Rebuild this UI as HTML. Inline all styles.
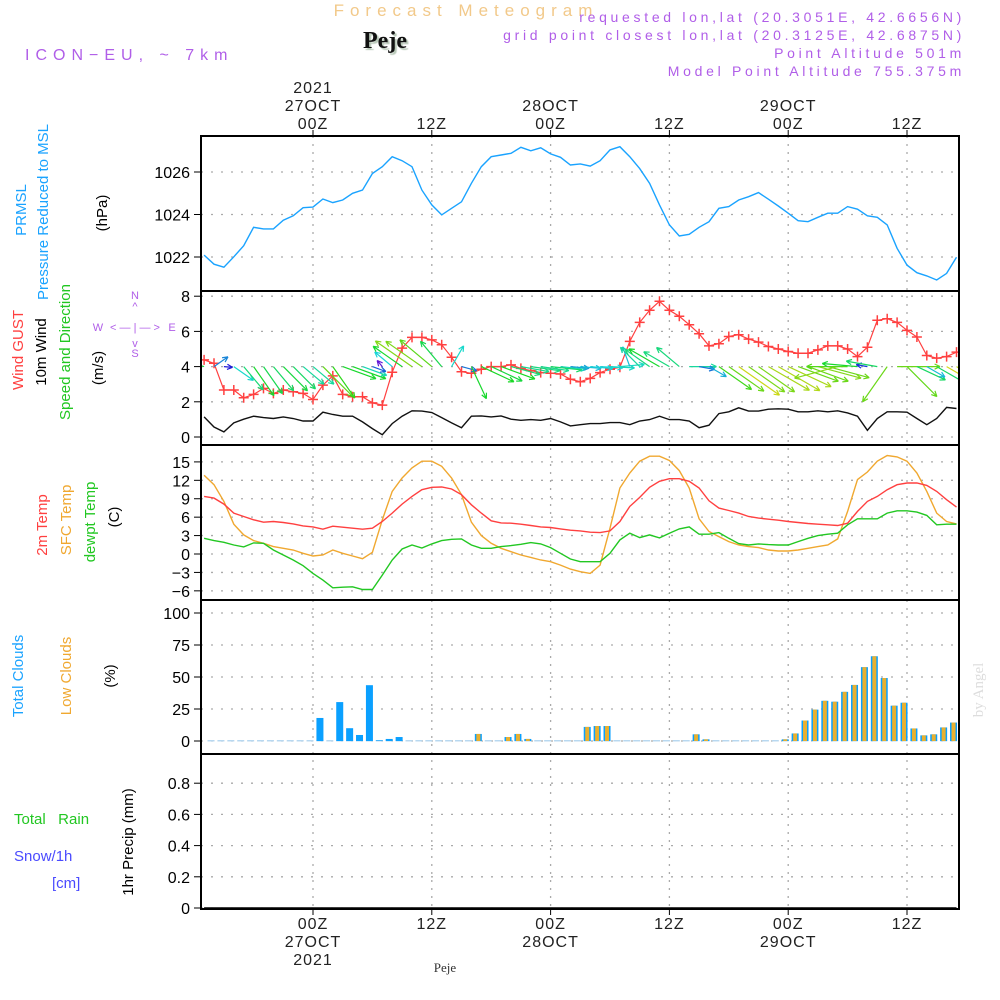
<!DOCTYPE html>
<html><head><meta charset="utf-8">
<style>
html,body{margin:0;padding:0;background:#fff;}
svg{display:block;font-family:"Liberation Sans",sans-serif;}
</style></head>
<body>
<svg id="chart" width="1000" height="1000" viewBox="0 0 1000 1000" xmlns="http://www.w3.org/2000/svg">
<defs>
<clipPath id="plotclip"><rect x="201" y="136" width="758" height="773"/></clipPath>
</defs>
<text x="466" y="16" text-anchor="middle" font-size="17" fill="#f2c98a" letter-spacing="6">Forecast Meteogram</text>
<text x="385" y="48" text-anchor="middle" font-size="24" font-weight="bold" font-family="Liberation Serif, serif" fill="#111" style="text-shadow:2px 2px 1px #b8c8b8">Peje</text>
<text x="25" y="60" font-size="16" fill="#b05ee8" letter-spacing="6">ICON−EU, ~ 7km</text>
<g font-size="14" fill="#b05ee8" text-anchor="end" letter-spacing="3.7">
<text x="965" y="22">requested lon,lat (20.3051E, 42.6656N)</text>
<text x="965" y="40">grid point closest lon,lat (20.3125E, 42.6875N)</text>
<text x="965" y="58">Point Altitude 501m</text>
<text x="965" y="76">Model Point Altitude 755.375m</text>
</g>
<g font-size="15" text-anchor="middle">
<text transform="translate(26,210) rotate(-90)" fill="#1aa3ff">PRMSL</text>
<text transform="translate(48,212) rotate(-90)" fill="#1aa3ff">Pressure Reduced to MSL</text>
<text transform="translate(107,213) rotate(-90)" fill="#000">(hPa)</text>
<text transform="translate(23,350) rotate(-90)" fill="#ff4040">Wind GUST</text>
<text transform="translate(46,352) rotate(-90)" fill="#000">10m Wind</text>
<text transform="translate(70,352) rotate(-90)" fill="#22c722">Speed and Direction</text>
<text transform="translate(103,368) rotate(-90)" fill="#000">(m/s)</text>
<text transform="translate(47,525) rotate(-90)" fill="#ff4040">2m Temp</text>
<text transform="translate(71,520) rotate(-90)" fill="#f0a830">SFC Temp</text>
<text transform="translate(95,522) rotate(-90)" fill="#22c722">dewpt Temp</text>
<text transform="translate(119,517) rotate(-90)" fill="#000">(C)</text>
<text transform="translate(23,676) rotate(-90)" fill="#1aa3ff">Total Clouds</text>
<text transform="translate(71,676) rotate(-90)" fill="#f0a830">Low Clouds</text>
<text transform="translate(115,676) rotate(-90)" fill="#000">(%)</text>
<text transform="translate(133,842) rotate(-90)" fill="#000">1hr Precip (mm)</text>
</g>
<g font-size="15">
<text x="14" y="824" fill="#22c722" xml:space="preserve">Total   Rain</text>
<text x="14" y="861" fill="#4a4aff">Snow/1h</text>
<text x="52" y="888" fill="#4a4aff">[cm]</text>
</g>
<g font-size="11" fill="#b05ee8" text-anchor="middle">
<text x="135" y="299">N</text>
<text x="135" y="310">^</text>
<text x="135" y="331">&lt; — | — &gt;</text>
<text x="98" y="331">W</text>
<text x="172" y="331">E</text>
<text x="135" y="347">v</text>
<text x="135" y="357">S</text>
</g>
<text transform="translate(983,690) rotate(-90)" font-size="15" font-family="Liberation Serif, serif" fill="#ddd" text-anchor="middle">by Angel</text>
<text x="445" y="972" font-size="13" font-family="Liberation Serif, serif" fill="#333" text-anchor="middle">Peje</text>
<g id="grid"></g>
<g id="marks" clip-path="url(#plotclip)"></g>
<g id="axes"></g>
</svg>
<script>
const hours = [];
for (let h = -11; h <= 65; h++) hours.push(h);
const pressure = [1022.09,1021.66,1021.52,1022.01,1022.53,1023.40,1023.32,1023.32,1023.73,1023.94,1024.32,1024.35,1024.73,1024.56,1024.68,1025.0,1025.15,1025.93,1026.25,1026.72,1026.53,1026.25,1025.15,1024.45,1023.98,1024.29,1024.60,1025.47,1026.25,1026.72,1026.8,1026.88,1027.16,1027.0,1027.14,1026.85,1026.69,1026.33,1026.38,1026.28,
1026.53,1027.04,1027.19,1026.72,1026.16,1025.47,1024.45,1023.51,1022.99,1023.07,1023.40,1023.66,1024.29,1024.37,1024.68,1024.84,1025.03,1024.72,1024.40,1024.06,1023.71,1023.66,1023.87,1024.06,1024.06,1024.37,1024.25,1023.94,1023.87,1023.51,1022.41,1021.62,1021.26,1021.11,1020.92,1021.23,1021.99];
const gust = [4.38,4.19,2.67,2.67,2.23,2.42,2.76,2.48,2.67,2.57,2.48,2.13,2.95,3.47,2.42,2.29,2.29,1.94,1.81,3.68,5.05,5.66,5.66,5.52,5.24,4.53,3.71,3.62,3.85,4.0,4.0,4.1,3.9,3.77,3.66,3.62,3.58,3.28,3.14,3.33,
3.66,3.85,3.96,5.43,6.51,7.2,7.71,7.2,6.86,6.38,5.87,5.18,5.3,5.71,5.81,5.56,5.39,5.14,5.0,4.86,4.76,4.76,4.95,5.18,5.18,5.0,4.57,5.1,6.63,6.72,6.51,6.06,5.68,4.63,4.48,4.57,4.82];
const wind10 = [1.14,0.57,0.29,0.8,1.01,1.18,1.1,1.05,1.14,1.05,0.91,0.91,1.41,1.28,1.18,1.18,0.86,0.48,0.13,0.76,1.18,1.49,1.47,1.39,1.1,0.8,0.53,1.18,1.2,1.14,1.2,1.01,0.95,0.99,0.95,1.05,0.86,0.63,0.7,0.76,
0.76,0.82,0.82,0.7,0.91,0.99,1.18,0.99,0.99,0.91,0.53,0.67,1.33,1.43,1.66,1.47,1.47,1.58,1.6,1.58,1.43,1.43,1.49,1.43,1.49,1.37,1.18,0.38,1.05,1.43,1.43,1.41,1.05,0.7,1.05,1.68,1.62];
const windDir = [195,-35,5,35,50,55,55,50,45,45,40,40,45,55,20,20,20,20,230,220,215,215,215,220,230,-60,15,65,25,25,20,15,10,8,8,6,6,5,5,5,
3,3,-5,250,225,215,210,210,220,0,10,30,35,35,35,35,35,30,30,25,20,20,15,15,165,180,185,190,190,125,0,45,25,30,30,30,30];
const t2m = [9.38,9.11,8.13,6.66,6.11,5.57,5.18,5.29,5.13,4.91,4.58,4.42,4.04,4.53,4.36,4.2,4.04,4.2,5.29,6.66,8.13,9.38,10.48,10.86,10.91,10.58,9.66,8.02,6.66,5.4,5.07,5.02,4.86,4.64,4.42,4.31,4.09,3.87,3.76,3.55,
3.49,3.76,5.29,7.75,9.22,10.86,11.84,12.27,12.27,11.84,10.75,8.67,7.47,7.09,6.66,6.11,5.84,5.67,5.51,5.29,5.13,4.96,4.86,4.75,4.64,5.02,6.93,8.56,9.38,10.48,11.29,11.56,11.56,11.18,10.2,8.84,7.64];
const tsfc = [12.82,11.29,8.56,4.86,3.11,2.18,1.75,1.2,0.93,0.65,0.11,-0.33,-0.16,0.65,0.11,-0.33,-0.76,0.27,5.56,10.2,12.38,14.02,15.11,15.11,14.29,12.38,9.66,5.18,3.0,1.75,0.93,0.38,-0.16,-0.55,-0.98,-1.26,-1.8,-2.46,-2.89,-3.16,
-1.8,4.2,10.75,13.2,15.11,15.93,15.93,15.22,13.58,10.75,5.73,3.66,2.84,2.02,1.47,1.2,1.04,0.65,0.49,0.49,0.65,0.93,1.2,1.47,2.46,6.93,12.11,13.36,15.11,16.04,15.82,15.11,13.2,10.2,6.66,5.29,4.9];
const tdew = [2.56,2.18,1.91,1.47,1.15,1.8,1.75,0.65,-0.16,-0.98,-1.91,-3.16,-4.25,-5.51,-5.4,-5.35,-5.78,-5.78,-3.44,-0.98,0.82,1.47,0.98,1.64,2.18,2.4,2.46,1.47,0.93,0.93,1.2,1.36,1.58,1.85,1.64,1.04,0.11,-0.82,-1.25,-1.25,
-1.25,0.11,2.29,3.38,2.67,3.11,2.62,3.38,4.09,4.42,3.22,3.22,3.49,2.56,1.69,1.47,1.64,1.53,1.47,1.47,2.02,2.56,3.0,3.22,3.38,4.75,5.73,5.73,5.73,6.66,7.04,7.04,6.82,6.28,4.75,4.86,4.86];
const totalClouds = [0,0,0,0,0,0,0,0,0,0,0,
18,0,30.4,10,4.7,43.6,0.5,1.6,3.1,0,
0,0,0,0,0,0,5.5,0,0,3.1,
5.5,1.6,0,0,0,0,0,11,11.7,11.7,
0,0,0,0,0,0,0,0,5.2,1.3,
0,0,0,0,0,0,0,1.3,5.9,16,
24.5,31.4,30.7,38.4,43.8,57.7,66.2,49.2,27.6,29.9,
9.8,4.4,5.2,10.6,14.4,0];
const lowClouds = [0,0,0,0,0,0,0,0,0,0,0,
0,0,0,0,0,0,0,0,0,0,
0,0,0,0,0,0,5.5,0,0,3.1,
5.5,1.6,0,0,0,0,0,11,11.7,11.7,
0,0,0,0,0,0,0,0,5.2,1.3,
0,0,0,0,0,0,0,1.3,5.9,16,
24.5,31.4,30.7,38.4,43.8,57.7,66.2,49.2,27.6,29.9,
9.8,4.4,5.2,10.6,14.4,0];
const precip = hours.map(() => 0);
const pTicks = [1022,1024,1026];
const wTicks = [0,2,4,6,8];
const tTicks = [-6,-3,0,3,6,9,12,15];
const cTicks = [0,25,50,75,100];
const rTicks = [0,0.2,0.4,0.6,0.8];
const timeTicks = [0,12,24,36,48,60];
const timeLabels = ["00Z","12Z","00Z","12Z","00Z","12Z"];
const dateLabels = ["27OCT","","28OCT","","29OCT",""];

const NS = "http://www.w3.org/2000/svg";
const X0 = 201, X1 = 959;
const xOf = h => 313 + h * 9.9;
const yP = p => 257 - (p - 1022) * 21.25;
const yW = v => 437 - v * 17.6;
const yT = t => 554 - t * 6.14;
const yC = c => 741 - c * 1.28;
const yR = r => 908 - r * 156;
const panels = [[136,291],[291,445],[445,600],[600,754],[754,909]];

function mk(tag, attrs, parent) {
  const e = document.createElementNS(NS, tag);
  for (const k in attrs) e.setAttribute(k, attrs[k]);
  parent.appendChild(e);
  return e;
}
const grid = document.getElementById("grid");
const marks = document.getElementById("marks");
const axes = document.getElementById("axes");

function yAxis(ticks, yf, fmt, name) {
  ticks.forEach(v => {
    const y = yf(v);
    const g = mk("line", {x1: X0, x2: X1, y1: y, y2: y, stroke: "#aaa", "stroke-width": 1.3, "stroke-dasharray": "2,8"}, grid);
    
    
    const t = mk("text", {x: 190, y: y + 6, "text-anchor": "end", "font-size": 16, fill: "#000"}, axes);
    t.textContent = fmt(v);
    
    
    mk("line", {x1: 194, x2: 201, y1: y, y2: y, stroke: "#000"}, axes);
  });
}
yAxis(pTicks, yP, v => String(v), "pressure");
yAxis(wTicks, yW, v => String(v), "wind");
yAxis(tTicks, yT, v => String(v).replace("-", "−"), "temp");
yAxis(cTicks, yC, v => String(v), "cloud");
yAxis(rTicks, yR, v => v === 0 ? "0" : v.toFixed(1), "precip");

timeTicks.forEach((h, i) => {
  const x = xOf(h);
  const v = mk("line", {x1: x, x2: x, y1: 136, y2: 909, stroke: "#aaa", "stroke-width": 1.3, "stroke-dasharray": "2,6"}, grid);
  
  
  mk("line", {x1: x, x2: x, y1: 130, y2: 136, stroke: "#000"}, axes);
  mk("line", {x1: x, x2: x, y1: 909, y2: 915, stroke: "#000"}, axes);
  const lines = [timeLabels[i]];
  if (dateLabels[i]) lines.unshift(dateLabels[i]);
  if (i === 0) lines.unshift("2021");
  lines.forEach((s, j) => {
    const t = mk("text", {x: x, y: 129 - (lines.length - 1 - j) * 18, "text-anchor": "middle", "font-size": 16, fill: "#222", "letter-spacing": 1}, axes);
    t.textContent = s;
    
    
  });
  const bl = [timeLabels[i]];
  if (dateLabels[i]) bl.push(dateLabels[i]);
  if (i === 0) bl.push("2021");
  bl.forEach((s, j) => {
    const t = mk("text", {x: x, y: 929 + j * 18, "text-anchor": "middle", "font-size": 16, fill: "#222", "letter-spacing": 1}, axes);
    t.textContent = s;
    
    
  });
});

function line(vals, yf, color, name, w) {
  const pts = vals.map((v, i) => xOf(hours[i]).toFixed(1) + "," + yf(v).toFixed(1)).join(" ");
  const p = mk("polyline", {points: pts, fill: "none", stroke: color, "stroke-width": w || 1.4}, marks);
  
  
}
line(pressure, yP, "#1aa3ff", "pressure-line");
line(wind10, yW, "#111", "wind-speed-line");
line(gust, yW, "#ff4040", "wind-gust-line", 1.2);
gust.forEach((v, i) => {
  const x = xOf(hours[i]), y = yW(v);
  const m = mk("path", {d: `M${x-5},${y}H${x+5}M${x},${y-5}V${y+5}`, stroke: "#ff4040", "stroke-width": 1.5}, marks);
  
  
});
windDir.forEach((a, i) => {
  const sp = wind10[i];
  const len = Math.max(8, sp * 30);
  const r = a * Math.PI / 180;
  const x = xOf(hours[i]), y = yW(4);
  const tx = x + Math.cos(r) * len, ty = y + Math.sin(r) * len;
  const hue = Math.max(55, Math.min(270, 280 - sp * 130));
  const c = `hsl(${hue},80%,47%)`;
  const h1 = r + Math.PI - 0.45, h2 = r + Math.PI + 0.45;
  const d = `M${x},${y}L${tx},${ty}M${tx},${ty}L${tx + Math.cos(h1) * 6},${ty + Math.sin(h1) * 6}M${tx},${ty}L${tx + Math.cos(h2) * 6},${ty + Math.sin(h2) * 6}`;
  const p = mk("path", {d: d, stroke: c, "stroke-width": 1.2, fill: "none"}, marks);
  
  
});
line(tsfc, yT, "#f0a830", "sfc-temp-line");
line(t2m, yT, "#ff4040", "2m-temp-line");
line(tdew, yT, "#22c722", "dewpoint-line");
totalClouds.forEach((v, i) => {
  const cx = xOf(hours[i] + 0.7);
  const base = mk("rect", {x: cx - 3.5, y: yC(0) - 1, width: 7, height: 1.5, fill: "#b8d8f0"}, marks);
  
  
  if (v > 0) {
    const b = mk("rect", {x: cx - 3.5, y: yC(v), width: 7, height: yC(0) - yC(v), fill: "#0aa0ff"}, marks);
    
    
  }
  const lv = lowClouds[i];
  if (lv > 0) {
    const b = mk("rect", {x: cx - 2, y: yC(lv), width: 4, height: yC(0) - yC(lv), fill: "#e8b030"}, marks);
    
    
  }
});
line(precip, yR, "#000", "precip-line", 1.5);
panels.forEach(([a, b]) => {
  const r = mk("rect", {x: X0, y: a, width: X1 - X0, height: b - a, fill: "none", stroke: "#000", "stroke-width": 2}, axes);
  
  
});
</script>
</body></html>
